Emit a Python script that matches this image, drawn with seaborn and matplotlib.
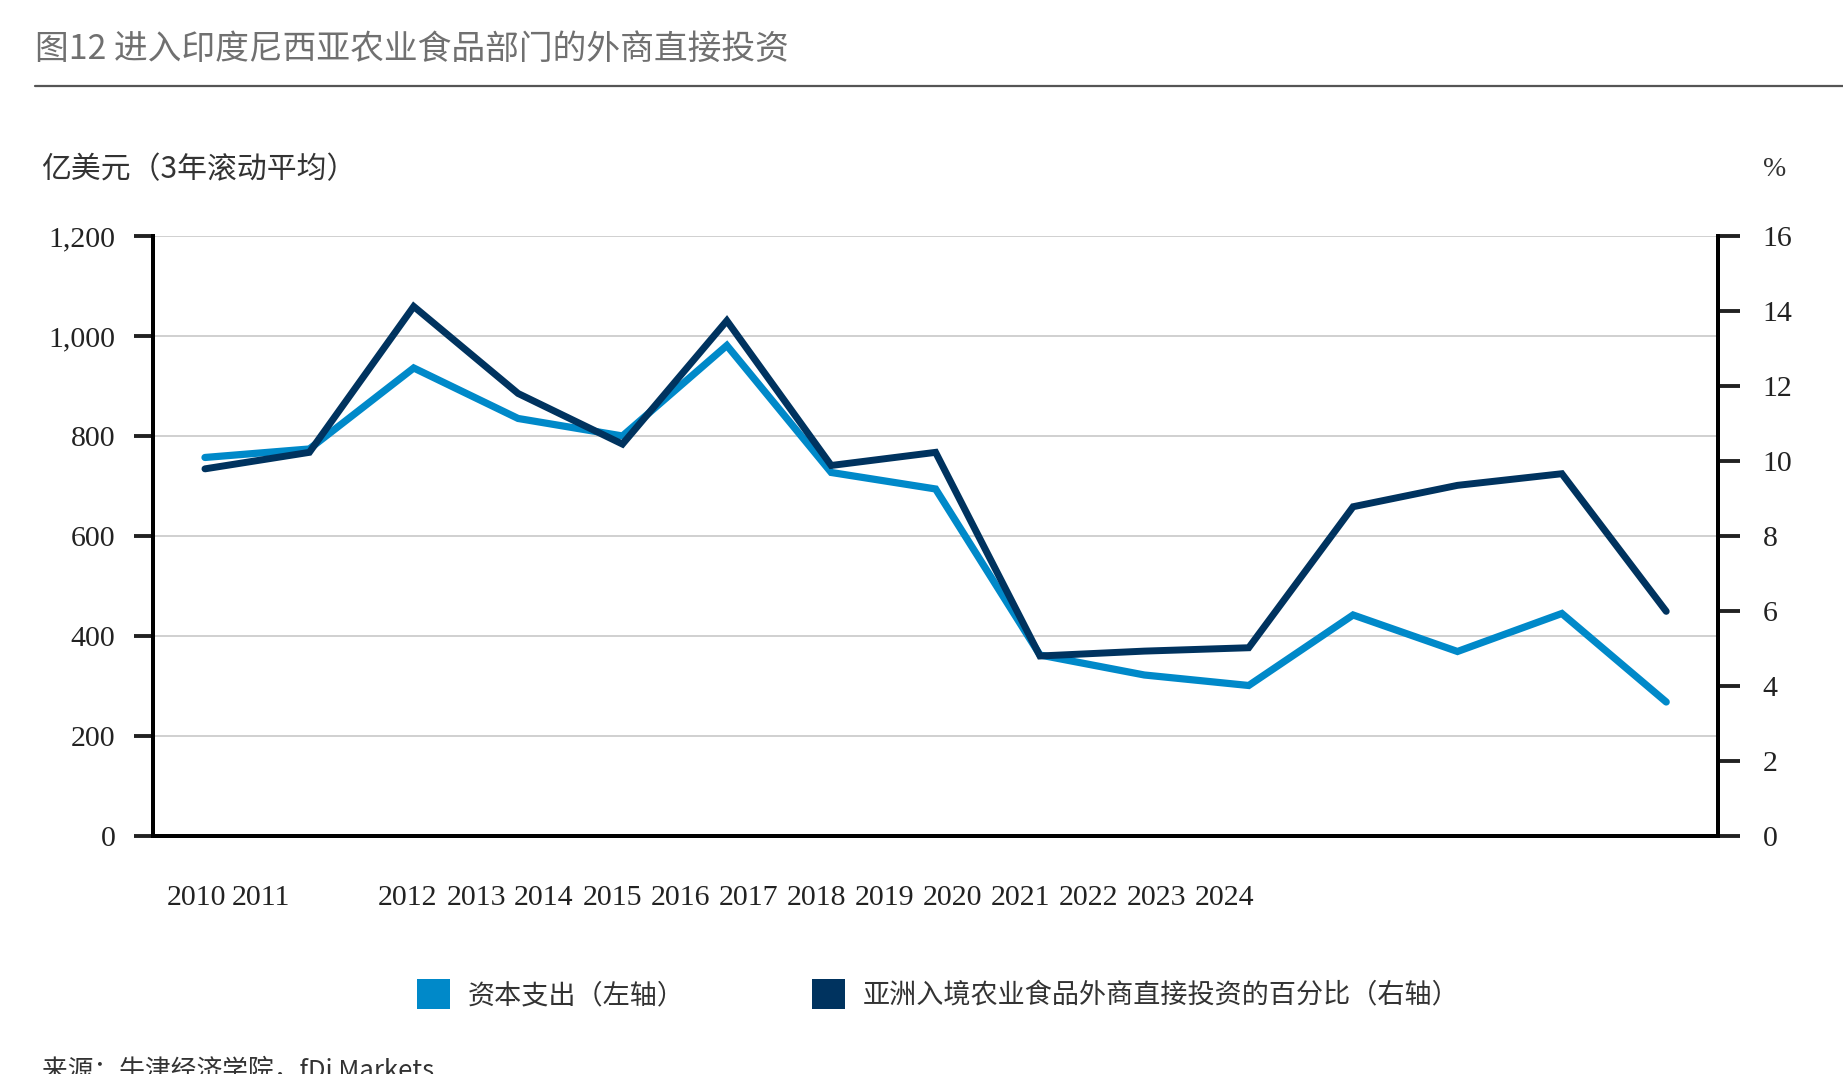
import matplotlib
matplotlib.use("Agg")
import matplotlib.pyplot as plt
from matplotlib.patches import Patch
import seaborn as sns
import pandas as pd
import numpy as np

# data (3-year rolling averages)
periods = list(range(15))
capex = [757, 774, 936, 835, 800, 981, 727, 694, 362, 322, 301, 442, 369, 445, 268]
asia_share = [9.79, 10.23, 14.12, 11.8, 10.45, 13.74, 9.88, 10.23, 4.8, 4.93, 5.02, 8.78, 9.35, 9.66, 5.99]
year_labels = [str(y) for y in range(2010, 2025)]
# the year labels sit bunched up under the axis in the source
label_pos = [-0.08, 0.54] + [1.945 + 0.6517 * i for i in range(13)]

left_ticks = [0, 200, 400, 600, 800, 1000, 1200]
right_ticks = [0, 2, 4, 6, 8, 10, 12, 14, 16]

light_blue = "#0089C9"
navy = "#00335F"

sns.set_theme(style="white")
plt.rcParams["font.family"] = ["Noto Sans CJK SC", "DejaVu Sans"]
serif = ["Liberation Serif", "DejaVu Serif"]

df = pd.DataFrame({"period": periods, "capex": capex, "share": asia_share})

fig = plt.figure(figsize=(18.43, 10.74), dpi=100)
ax = fig.add_axes([0.0829, 0.2216, 0.9324 - 0.0829, 0.7803 - 0.2216])
ax2 = ax.twinx()

sns.lineplot(data=df, x="period", y="capex", ax=ax, color=light_blue, lw=5.2,
             solid_joinstyle="miter", zorder=3)
sns.lineplot(data=df, x="period", y="share", ax=ax2, color=navy, lw=5.0,
             solid_joinstyle="miter", zorder=4)

ax.set_xlim(-0.5, 14.5)
ax.set_ylim(0, 1200)
ax2.set_ylim(0, 16)
ax.set_yticks(left_ticks)
ax.set_yticklabels([f"{v:,}" for v in left_ticks])
ax2.set_yticks(right_ticks)
ax2.set_yticklabels([str(v) for v in right_ticks])
ax.set_xlabel("")
ax.set_ylabel("")
ax2.set_ylabel("")

# horizontal grid from left axis
ax.grid(axis="y", color="#c8c8c8", lw=1.2)
ax.grid(axis="x", visible=False)
ax2.grid(False)
ax.set_axisbelow(True)

# x ticks: marks at interval boundaries, labels bunched separately
ax.set_xticks(np.arange(-0.5, 15, 1.0))
ax.set_xticklabels([])
ax.set_xticks(label_pos, minor=True)
ax.set_xticklabels(year_labels, minor=True)
ax.tick_params(axis="x", which="major", direction="out", length=15, width=2.8, color="black")
ax.tick_params(axis="x", which="minor", length=0, pad=35)
ax.tick_params(axis="y", direction="out", length=14, width=2.8, pad=13, colors="#222222")
ax2.tick_params(axis="y", direction="out", length=16, width=2.8, pad=16, colors="#222222")
for lab in ax.get_xticklabels(minor=True) + ax.get_yticklabels() + ax2.get_yticklabels():
    lab.set_family(serif)
    lab.set_fontsize(21.5)
    lab.set_color("#222222")

for a in (ax, ax2):
    a.spines["top"].set_visible(False)
    for s in ("left", "right", "bottom"):
        a.spines[s].set_color("black")
        a.spines[s].set_linewidth(2.8)

# title and rule
fig.text(35 / 1843, 1 - 49 / 1074, "图12 进入印度尼西亚农业食品部门的外商直接投资",
         fontsize=24.3, color="#707070", va="center", ha="left")
fig.add_artist(plt.Line2D([35 / 1843, 1], [1 - 86 / 1074] * 2, color="#555555", lw=1.6))

# axis unit labels
fig.text(41 / 1843, 1 - 170 / 1074, "亿美元（3年滚动平均）", fontsize=21.5,
         color="#333333", va="center", ha="left")
fig.text(1775 / 1843, 1 - 170 / 1074, "%", fontsize=20, color="#333333",
         va="center", ha="center", family=serif)

# legend
handles = [Patch(facecolor=light_blue, edgecolor="none", label="资本支出（左轴）"),
           Patch(facecolor=navy, edgecolor="none", label="亚洲入境农业食品外商直接投资的百分比（右轴）")]
fig.legend(handles=handles, loc="center left", bbox_to_anchor=(417 / 1843, 1 - 994 / 1074),
           ncol=2, frameon=False, fontsize=19.5, handlelength=1.2, handleheight=1.3,
           handletextpad=0.68, columnspacing=4.7, borderpad=0, borderaxespad=0,
           labelcolor="#333333")

# source note (cut off at bottom edge, as in the reference)
fig.text(42 / 1843, 1 - 1058 / 1074, "来源：牛津经济学院，fDi Markets", fontsize=18.5,
         color="#333333", va="top", ha="left")

fig.savefig("out.png", dpi=100)
